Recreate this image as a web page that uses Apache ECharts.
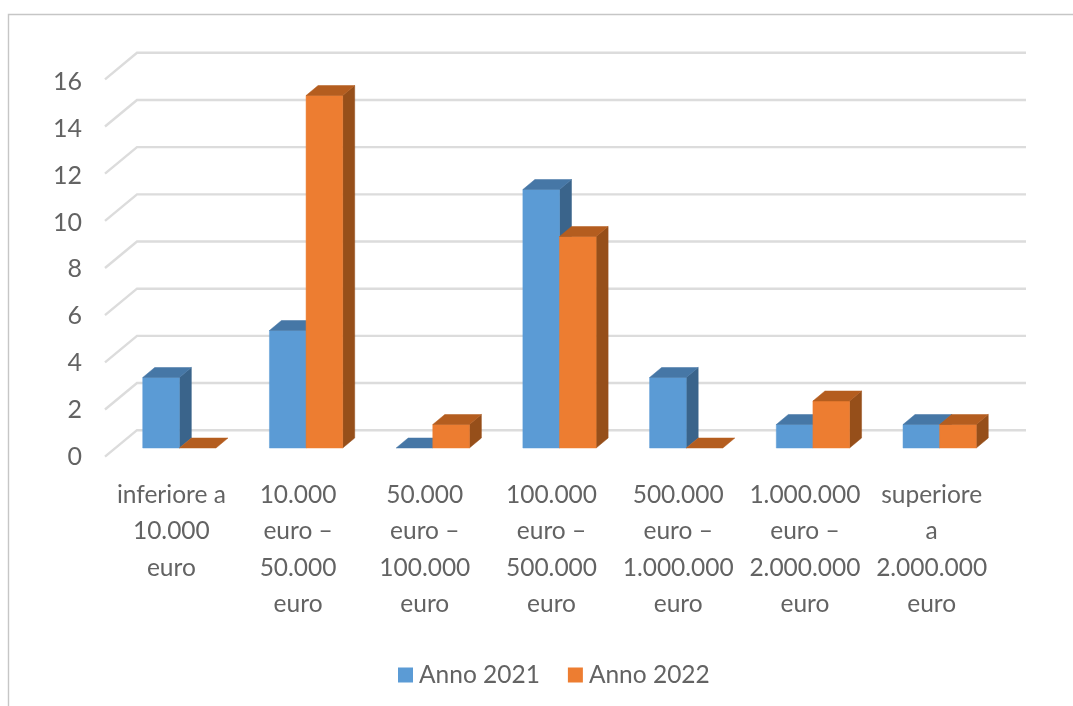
<!DOCTYPE html>
<html><head><meta charset="utf-8">
<style>html,body{margin:0;padding:0;background:#fff}#c{width:1073px;height:706px;filter:blur(0.45px)}</style>
<script src="https://cdn.jsdelivr.net/npm/echarts@6/dist/echarts.min.js"></script>
</head><body><div id="c"></div>
<script>
const categories = ["inferiore a\n10.000\neuro","10.000\neuro –\n50.000\neuro","50.000\neuro –\n100.000\neuro","100.000\neuro –\n500.000\neuro","500.000\neuro –\n1.000.000\neuro","1.000.000\neuro –\n2.000.000\neuro","superiore\na\n2.000.000\neuro"];
const anno2021 = [3,5,0,11,3,1,1];
const anno2022 = [0,15,1,9,0,2,1];
const ticks = [0,2,4,6,8,10,12,14,16];
const FONT = 'Lato, "Open Sans", sans-serif';
const TEXT = '#636363';
const chart = echarts.init(document.getElementById('c'), null, {renderer:'canvas'});

function poly(points, fill){
  return {type:'polygon', shape:{points}, style:{fill, stroke:fill, lineWidth:0.5}};
}
function barRender(sign, front, top, side){
  const depthX = 12, depthY = -10;
  return function(params, api){
    const cat = api.value(0), val = api.value(1);
    const band = api.size([1,0])[0], w = band*0.289;
    const base = api.coord([cat,0]), head = api.coord([cat,val]);
    const x0 = sign<0 ? base[0]-w : base[0], x1 = x0+w;
    const y0 = base[1], y1 = head[1];
    const children = [];
    if(val>0){
      children.push(poly([[x1,y1],[x1+depthX,y1+depthY],[x1+depthX,y0+depthY],[x1,y0]], side));
      children.push(poly([[x0,y1],[x1,y1],[x1,y0],[x0,y0]], front));
    }
    children.push(poly([[x0,y1],[x0+depthX,y1+depthY],[x1+depthX,y1+depthY],[x1,y1]], top));
    return {type:'group', children};
  };
}
function wallRender(params, api){
  const v = api.value(0);
  const band = api.size([1,0])[0];
  const p = api.coord([0,v]);
  const sx = p[0]-band/2-3, sy = p[1];
  return {type:'polyline', shape:{points:[[sx,sy],[sx+32,sy-26.5],[sx+32+889,sy-26.5]]},
    style:{fill:'none', stroke:'#dcdcdc', lineWidth:2.4}};
}
chart.setOption({
  animation:false,
  backgroundColor:'#fff',
  graphic:[{type:'polyline', silent:true, z:0, shape:{points:[[8.5,706],[8.5,14.5],[1073,14.5]]}, style:{fill:'none', stroke:'#c6c6c6', lineWidth:1.4}}],
  grid:[
    {left:116, width:887, top:72, height:376},
    {left:108, width:887, top:79.3, height:377.4},
    {left:108, width:887, top:82, height:374.7}
  ],
  xAxis:[
    {gridIndex:0, type:'category', data:categories, show:false},
    {gridIndex:1, type:'category', data:categories, axisLine:{show:false}, axisTick:{show:false},
      axisLabel:{interval:0, margin:20, lineHeight:36.5, fontFamily:FONT, fontSize:24.5, color:TEXT, verticalAlign:'top'}},
    {gridIndex:2, type:'category', data:categories, show:false}
  ],
  yAxis:[
    {gridIndex:0, type:'value', min:0, max:16, interval:2, show:false},
    {gridIndex:1, type:'value', min:0, max:16, interval:2, show:false},
    {gridIndex:2, type:'value', min:0, max:16, interval:2, splitLine:{show:false}, axisLine:{show:false}, axisTick:{show:false},
      axisLabel:{margin:26, fontFamily:FONT, fontSize:25, color:TEXT}}
  ],
  legend:{left:398, top:662.5, padding:0, icon:'rect', itemWidth:15, itemHeight:15, itemGap:28,
    textStyle:{fontFamily:FONT, fontSize:24.5, color:TEXT, padding:[0,0,0,1]},
    data:['Anno 2021','Anno 2022']},
  series:[
    {type:'custom', name:'wall', xAxisIndex:1, yAxisIndex:1, z:1, silent:true, clip:false, data:ticks.map(t=>[t]), encode:{y:0}, renderItem:wallRender},
    {type:'custom', name:'Anno 2021', xAxisIndex:0, yAxisIndex:0, z:2, clip:false, itemStyle:{color:'#5b9bd5'},
      data:anno2021.map((v,i)=>[i,v]), encode:{x:0,y:1}, renderItem:barRender(-1,'#5b9bd5','#4677a6','#3a648b')},
    {type:'custom', name:'Anno 2022', xAxisIndex:0, yAxisIndex:0, z:3, clip:false, itemStyle:{color:'#ed7d31'},
      data:anno2022.map((v,i)=>[i,v]), encode:{x:0,y:1}, renderItem:barRender(1,'#ed7d31','#b45d1f','#964f1a')}
  ]
});
</script></body></html>
